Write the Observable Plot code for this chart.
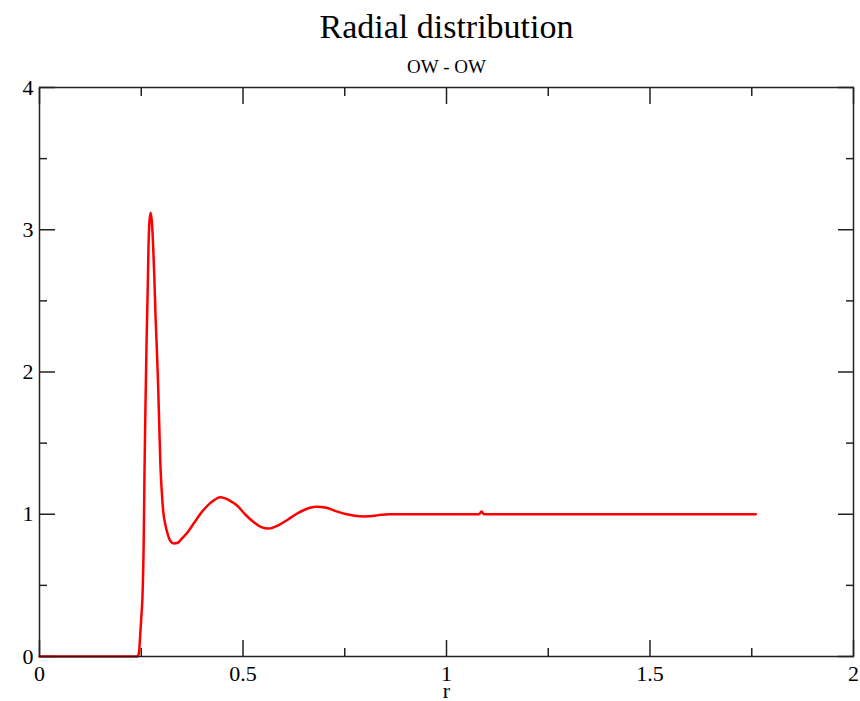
<!DOCTYPE html>
<html>
<head>
<meta charset="utf-8">
<script src="https://cdn.jsdelivr.net/npm/d3@7"></script>
<script src="https://cdn.jsdelivr.net/npm/@observablehq/plot@0.6"></script>
<style>
  html, body { margin: 0; padding: 0; background: #fff; }
  #wrap { width: 860px; font-family: "Liberation Serif", "Times New Roman", serif; color: #000; }
  #head { position: relative; width: 860px; height: 74px; }
  #title { position: absolute; left: 39px; width: 815px; top: 9.5px; text-align: center; font-size: 34px; line-height: 1; white-space: nowrap; }
  #subtitle { position: absolute; left: 39px; width: 815px; top: 59.9px; text-align: center; font-size: 19px; line-height: 0.7; white-space: nowrap; }
  svg { display: block; }
</style>
</head>
<body>
<div id="wrap">
  <div id="head">
    <div id="title">Radial distribution</div>
    <div id="subtitle">OW - OW</div>
  </div>
  <div id="chart"></div>
</div>
<script>
// r (nm) and g(r)
const rValues = [0, 0.10, 0.20, 0.240, 0.244, 0.247, 0.250, 0.253, 0.256, 0.258, 0.260, 0.263, 0.266, 0.268, 0.270, 0.273,
  0.276, 0.279, 0.282, 0.285, 0.288, 0.291, 0.294, 0.297, 0.300, 0.304, 0.309, 0.315, 0.322, 0.330, 0.340, 0.350,
  0.363, 0.380, 0.400, 0.420, 0.445, 0.465, 0.486, 0.505, 0.526, 0.545, 0.563, 0.585, 0.609, 0.630, 0.650, 0.680,
  0.705, 0.730, 0.755, 0.774, 0.800, 0.818, 0.840, 0.860, 0.950, 1.080, 1.086, 1.092, 1.300, 1.500, 1.760];
const gValues = [0, 0, 0, 0, 0.02, 0.13, 0.27, 0.42, 0.80, 1.30, 1.70, 2.20, 2.60, 2.90, 3.05, 3.12,
  3.06, 2.90, 2.68, 2.40, 2.18, 1.95, 1.65, 1.35, 1.18, 1.02, 0.93, 0.86, 0.81, 0.795, 0.80, 0.83,
  0.87, 0.94, 1.02, 1.08, 1.12, 1.10, 1.06, 1.00, 0.945, 0.91, 0.90, 0.92, 0.96, 1.00, 1.03, 1.052,
  1.045, 1.02, 1.00, 0.99, 0.985, 0.988, 0.996, 1.00, 1.00, 1.00, 1.02, 1.00, 1.00, 1.00, 1.00];

const xMajor = [0, 0.5, 1, 1.5, 2];
const xMinor = [0.25, 0.75, 1.25, 1.75];
const yMajor = [0, 1, 2, 3, 4];
const yMinor = [0.5, 1.5, 2.5, 3.5];

const ink = "#222";
const data = rValues.map((r, i) => ({r, g: gValues[i]}));

const chart = Plot.plot({
  width: 860,
  height: 627,
  marginTop: 13,
  marginBottom: 45,
  marginLeft: 39,
  marginRight: 7,
  style: {fontFamily: "'Liberation Serif', 'Times New Roman', serif", background: "transparent", color: "#000"},
  x: {domain: [0, 2]},
  y: {domain: [0, 4]},
  marks: [
    // inward major and minor ticks on all four sides
    Plot.axisX(xMajor, {anchor: "bottom", tickSize: -16, fill: "none", stroke: ink, strokeWidth: 1.5}),
    Plot.axisX(xMinor, {anchor: "bottom", tickSize: -8, fill: "none", stroke: ink, strokeWidth: 1.5}),
    Plot.axisX(xMajor, {anchor: "top", tickSize: -16, fill: "none", stroke: ink, strokeWidth: 1.5}),
    Plot.axisX(xMinor, {anchor: "top", tickSize: -8, fill: "none", stroke: ink, strokeWidth: 1.5}),
    Plot.axisY(yMajor, {anchor: "left", tickSize: -16, fill: "none", stroke: ink, strokeWidth: 1.5}),
    Plot.axisY(yMinor, {anchor: "left", tickSize: -8, fill: "none", stroke: ink, strokeWidth: 1.5}),
    Plot.axisY(yMajor, {anchor: "right", tickSize: -16, fill: "none", stroke: ink, strokeWidth: 1.5}),
    Plot.axisY(yMinor, {anchor: "right", tickSize: -8, fill: "none", stroke: ink, strokeWidth: 1.5}),
    // tick labels
    Plot.axisX(xMajor, {anchor: "bottom", tickSize: 0, tickPadding: 9, fontSize: 22, stroke: "none", fill: "#000",
      tickFormat: d => String(d), label: "r", labelAnchor: "center", labelOffset: 41, labelArrow: "none"}),
    Plot.axisY(yMajor, {anchor: "left", tickSize: 0, tickPadding: 6, fontSize: 22, stroke: "none", fill: "#000",
      tickFormat: d => String(d), label: null}),
    Plot.line(data, {x: "r", y: "g", stroke: "red", strokeWidth: 2.5, curve: "monotone-x"}),
    Plot.frame({stroke: ink, strokeWidth: 1.5})
  ]
});
document.getElementById("chart").appendChild(chart);
</script>
</body>
</html>
